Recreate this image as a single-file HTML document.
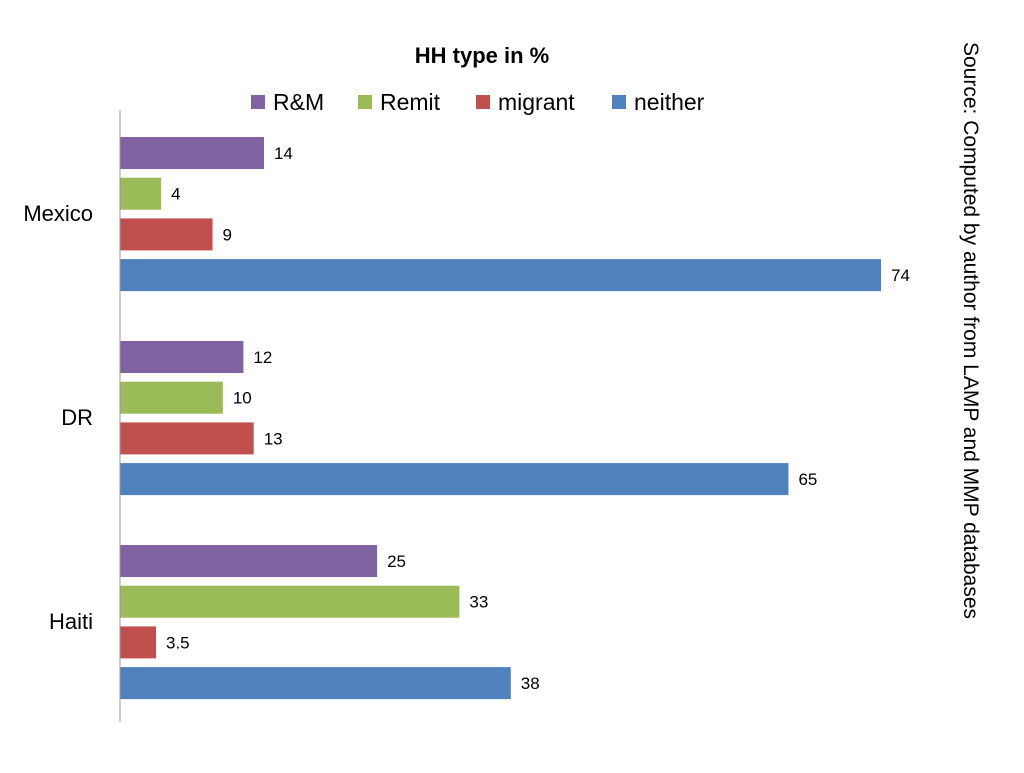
<!DOCTYPE html>
<html><head><meta charset="utf-8"><style>
body{margin:0;width:1024px;height:768px;background:#fff;overflow:hidden;font-family:"Liberation Sans",sans-serif}
</style></head><body>
<svg width="1024" height="768" font-family="Liberation Sans, sans-serif">
<text x="482" y="63" text-anchor="middle" font-size="22" font-weight="bold">HH type in %</text>
<g id="legend"></g>
<g id="plot"></g>
<line x1="120" y1="110" x2="120" y2="722" stroke="#999" stroke-width="1"/>
<text transform="translate(964,42) rotate(90)" font-size="21" fill="#000">Source:  Computed  by author from LAMP and MMP databases</text>
</svg>
<script>
const categories=["Mexico","DR","Haiti"];
const seriesNames=["R&M","Remit","migrant","neither"];
const rmValues=[14,12,25];
const remitValues=[4,10,33];
const migrantValues=[9,13,3.5];
const neitherValues=[74,65,38];
const colors=["#8064A2","#9BBB59","#C0504D","#4F81BD"];
const series=[rmValues,remitValues,migrantValues,neitherValues];
const NS="http://www.w3.org/2000/svg";
const x0=120,pxPerUnit=761/74;
const xs=v=>x0+v*pxPerUnit;
const groupTop=i=>137+i*204;
const plot=document.getElementById('plot');
function mk(t,a){const e=document.createElementNS(NS,t);for(const k in a)e.setAttribute(k,a[k]);return e;}
categories.forEach((c,i)=>{
  const lbl=mk('text',{x:93,y:groupTop(i)+84,'text-anchor':'end','font-size':22});
  lbl.textContent=c;
  
  
  plot.appendChild(lbl);
  series.forEach((s,j)=>{
    const y=groupTop(i)+j*40.7;
    const r=mk('rect',{x:x0,y:y,width:xs(s[i])-x0,height:32,fill:colors[j]});
    
    
    plot.appendChild(r);
    const t=mk('text',{x:xs(s[i])+10,y:y+22,'font-size':17});
    t.textContent=String(s[i]);
    
    
    plot.appendChild(t);
  });
});
const leg=document.getElementById('legend');
const legX=[251,358,476,612];
seriesNames.forEach((n,j)=>{
  const sq=mk('rect',{x:legX[j],y:95,width:14,height:14,fill:colors[j]});
  
  
  leg.appendChild(sq);
  const t=mk('text',{x:legX[j]+22,y:110,'font-size':23});
  t.textContent=n;
  
  
  leg.appendChild(t);
});
</script>
</body></html>
